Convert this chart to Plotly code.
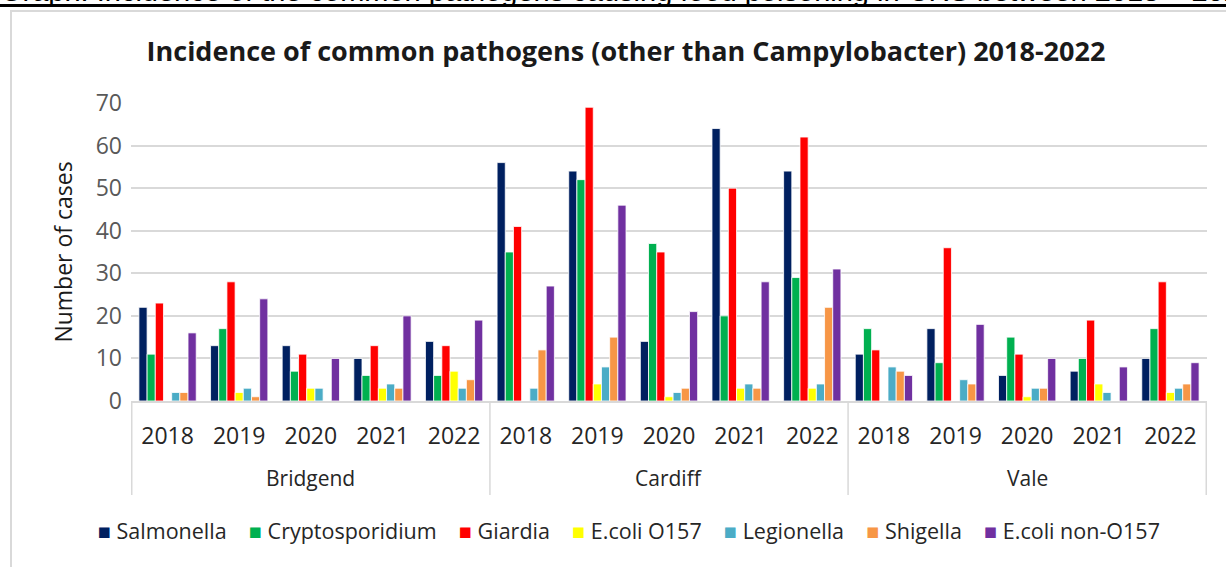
import plotly.graph_objects as go

regions = ["Bridgend", "Cardiff", "Vale"]
years = ["2018", "2019", "2020", "2021", "2022"]
categories = [f"{r} {y}" for r in regions for y in years]
year_labels = years * len(regions)

pathogens = ["Salmonella", "Cryptosporidium", "Giardia", "E.coli O157",
             "Legionella", "Shigella", "E.coli non-O157"]
colors = ["#002060", "#00B050", "#FF0000", "#FFFF00",
          "#4BACC6", "#F79646", "#7030A0"]

salmonella = [22, 13, 13, 10, 14, 56, 54, 14, 64, 54, 11, 17, 6, 7, 10]
cryptosporidium = [11, 17, 7, 6, 6, 35, 52, 37, 20, 29, 17, 9, 15, 10, 17]
giardia = [23, 28, 11, 13, 13, 41, 69, 35, 50, 62, 12, 36, 11, 19, 28]
ecoli_o157 = [0, 2, 3, 3, 7, 0, 4, 1, 3, 3, 0, 0, 1, 4, 2]
legionella = [2, 3, 3, 4, 3, 3, 8, 2, 4, 4, 8, 5, 3, 2, 3]
shigella = [2, 1, 0, 3, 5, 12, 15, 3, 3, 22, 7, 4, 3, 0, 4]
ecoli_non_o157 = [16, 24, 10, 20, 19, 27, 46, 21, 28, 31, 6, 18, 10, 8, 9]

series = [salmonella, cryptosporidium, giardia, ecoli_o157,
          legionella, shigella, ecoli_non_o157]

FONT = "Open Sans"
GRID = "#d9d9d9"
PLOT_H = 298  # plot area height in px, used to turn pixel offsets into paper units

fig = go.Figure()
for name, vals, col in zip(pathogens, series, colors):
    fig.add_trace(go.Bar(
        x=categories, y=vals, name=name,
        marker=dict(color=col, line=dict(color="white", width=0.8)),
    ))

fig.update_layout(
    width=1226, height=567,
    margin=dict(l=131, r=19, t=103, b=166),
    paper_bgcolor="white", plot_bgcolor="white",
    barmode="group", bargap=0.2, bargroupgap=0,
    font=dict(family=FONT, size=20, color="#262626"),
    title=dict(text="<b>Incidence of common pathogens (other than Campylobacter) 2018-2022</b>",
               xref="paper", x=0.46, xanchor="center", y=1 - 52 / 567, yanchor="middle",
               font=dict(family=FONT, size=27, color="#1a1a1a")),
    showlegend=False,
)

fig.update_yaxes(
    range=[0, 70], dtick=10, showgrid=True, gridcolor=GRID, gridwidth=1.5,
    zeroline=False, showline=False, ticks="", automargin=False,
    ticklabelstandoff=8,
    tickfont=dict(family=FONT, size=23, color="#595959"),
    title=dict(text="Number of cases", font=dict(family=FONT, size=23, color="#1a1a1a"),
               standoff=16),
)
fig.update_xaxes(
    type="category", tickvals=categories, ticktext=year_labels,
    showline=True, linecolor=GRID, linewidth=1.5, automargin=False,
    ticks="", ticklabelstandoff=14,
    tickfont=dict(family=FONT, size=23, color="#262626"),
)

# region labels and dividers of the two-level category axis
n = len(years)
for i, r in enumerate(regions):
    fig.add_annotation(text=r, xref="x", yref="paper", x=i * n + (n - 1) / 2,
                       y=-77 / PLOT_H, yanchor="middle", showarrow=False,
                       font=dict(family=FONT, size=21, color="#262626"))
for k in range(len(regions) + 1):
    fig.add_shape(type="line", xref="x", yref="paper",
                  x0=k * n - 0.5, x1=k * n - 0.5, y0=0, y1=-94 / PLOT_H,
                  line=dict(color=GRID, width=1.5))

# legend row
legend_text = "&nbsp;&nbsp;&nbsp;&nbsp;".join(
    f"<span style='color:{c}'>\u25a0</span> {p}" for p, c in zip(pathogens, colors))
fig.add_annotation(text=legend_text, xref="paper", yref="paper", x=0.463,
                   y=-129 / PLOT_H, yanchor="middle", showarrow=False,
                   font=dict(family=FONT, size=21.5, color="#262626"))

# caption above the chart, clipped at the top of the picture
fig.add_annotation(
    text="Graph: Incidence of the common pathogens causing food poisoning in CRS between 2018 \u2013 2022",
    xref="paper", yref="paper", x=-133 / 1076, xanchor="left",
    y=1 + (103 - 9) / PLOT_H, yanchor="bottom", showarrow=False,
    font=dict(family="Liberation Sans", size=29, color="black"),
)
fig.add_shape(type="line", xref="paper", yref="paper",
              x0=-0.2, x1=1.1, y0=1 + (103 - 5.5) / PLOT_H, y1=1 + (103 - 5.5) / PLOT_H,
              line=dict(color="black", width=3))
# chart border
fig.add_shape(type="rect", xref="paper", yref="paper",
              x0=-120 / 1076, x1=1.1, y0=-0.7, y1=1 + (103 - 11) / PLOT_H,
              line=dict(color=GRID, width=2), layer="below")

fig.write_html("out.html", config={"displayModeBar": False},
               post_script="document.body.style.margin='0';")
